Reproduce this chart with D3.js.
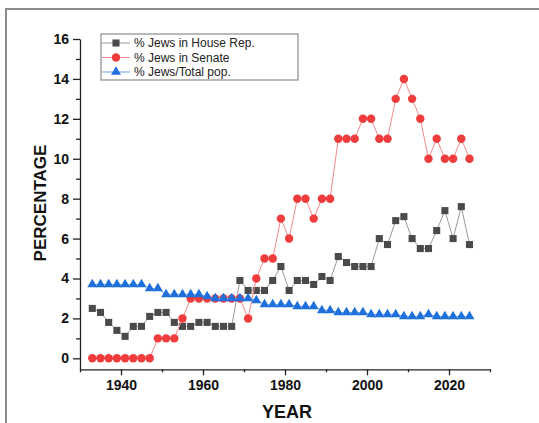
<!DOCTYPE html>
<html>
<head>
<meta charset="utf-8">
<script src="https://cdn.jsdelivr.net/npm/d3@7"></script>
<style>
  body { margin: 0; background: #fff; }
  svg { display: block; font-family: "Liberation Sans", Arial, sans-serif; }
</style>
</head>
<body>
<svg width="539" height="423"></svg>
<script>
let years = [1933, 1935, 1937, 1939, 1941, 1943, 1945, 1947, 1949, 1951,
             1953, 1955, 1957, 1959, 1961, 1963, 1965, 1967, 1969, 1971,
             1973, 1975, 1977, 1979, 1981, 1983, 1985, 1987, 1989, 1991,
             1993, 1995, 1997, 1999, 2001, 2003, 2005, 2007, 2009, 2011,
             2013, 2015, 2017, 2019, 2021, 2023, 2025];

let house = [2.5, 2.3, 1.8, 1.4, 1.1, 1.6, 1.6, 2.1, 2.3, 2.3,
             1.8, 1.6, 1.6, 1.8, 1.8, 1.6, 1.6, 1.6, 3.9, 3.4,
             3.4, 3.4, 3.9, 4.6, 3.4, 3.9, 3.9, 3.7, 4.1, 3.9,
             5.1, 4.8, 4.6, 4.6, 4.6, 6.0, 5.7, 6.9, 7.1, 6.0,
             5.5, 5.5, 6.4, 7.4, 6.0, 7.6, 5.7];

let senate = [0, 0, 0, 0, 0, 0, 0, 0, 1, 1,
              1, 2, 3, 3, 3, 3, 3, 3, 3, 2,
              4, 5, 5, 7, 6, 8, 8, 7, 8, 8,
              11, 11, 11, 12, 12, 11, 11, 13, 14, 13,
              12, 10, 11, 10, 10, 11, 10];

let pop = [3.7, 3.7, 3.7, 3.7, 3.7, 3.7, 3.7, 3.5, 3.5, 3.2,
           3.2, 3.2, 3.2, 3.2, 3.1, 3.0, 3.0, 3.0, 3.0, 3.0,
           2.9, 2.7, 2.7, 2.7, 2.7, 2.6, 2.6, 2.6, 2.4, 2.4,
           2.3, 2.3, 2.3, 2.3, 2.2, 2.2, 2.2, 2.2, 2.1, 2.1,
           2.1, 2.2, 2.1, 2.1, 2.1, 2.1, 2.1];

let yTicks = [0, 2, 4, 6, 8, 10, 12, 14, 16];
let yMinor = [1, 3, 5, 7, 9, 11, 13, 15];
let xTicks = [1940, 1960, 1980, 2000, 2020];
let xMinor = [1930, 1950, 1970, 1990, 2010, 2030];

let series = [
    {name: "% Jews in House Rep.", values: house, symbol: d3.symbolSquare, size: 50, fill: "#4a4a4a", line: "#9a9a9a"},
    {name: "% Jews in Senate", values: senate, symbol: d3.symbolCircle, size: 56, fill: "#f03c3c", line: "#f58a8a"},
    {name: "% Jews/Total pop.", values: pop, symbol: d3.symbolTriangle, size: 42, fill: "#1f6fdc", line: "#6aa4ee"}
];

let svg = d3.select("svg");

// frame around the figure
svg.append("path")
   .attr("d", "M6,423 V9 H539")
   .attr("fill", "none")
   .attr("stroke", "#8c8c8c")
   .attr("stroke-width", 2);

let x = d3.scaleLinear().domain([1930, 2030]).range([80, 490]);
let y = d3.scaleLinear().domain([-0.55, 16]).range([369.3, 39]);

// axes
let xAxis = svg.append("g")
   .attr("transform", "translate(0,369.3)")
   .call(d3.axisBottom(x).tickValues(xTicks).tickFormat(d3.format("d"))
           .tickSize(6).tickSizeOuter(0).tickPadding(5));
svg.append("g")
   .attr("transform", "translate(0,369.3)")
   .call(d3.axisBottom(x).tickValues(xMinor).tickFormat("").tickSize(3).tickSizeOuter(0))
   .select(".domain").remove();

let yAxis = svg.append("g")
   .attr("transform", "translate(80,0)")
   .call(d3.axisLeft(y).tickValues(yTicks).tickSize(7).tickSizeOuter(0).tickPadding(4));
svg.append("g")
   .attr("transform", "translate(80,0)")
   .call(d3.axisLeft(y).tickValues(yMinor).tickFormat("").tickSize(4).tickSizeOuter(0))
   .select(".domain").remove();

svg.selectAll(".domain, .tick line").attr("stroke", "#222").attr("stroke-width", 1.3);
xAxis.selectAll("text").attr("font-size", 14).attr("font-weight", "bold").attr("fill", "#111");
yAxis.selectAll("text").attr("font-size", 14).attr("font-weight", "bold").attr("fill", "#111");

// axis titles
svg.append("text")
   .attr("x", 287).attr("y", 418)
   .attr("text-anchor", "middle")
   .attr("font-size", 18).attr("font-weight", "bold").attr("fill", "#111")
   .text("YEAR");
svg.append("text")
   .attr("transform", "translate(46,203) rotate(-90)")
   .attr("text-anchor", "middle")
   .attr("font-size", 17).attr("font-weight", "bold").attr("fill", "#111")
   .text("PERCENTAGE");

// series
let line = d3.line()
    .x((d, i) => x(years[i]))
    .y(d => y(d));

series.forEach(function (s) {
    svg.append("path")
       .attr("d", line(s.values))
       .attr("fill", "none")
       .attr("stroke", s.line)
       .attr("stroke-width", 1);
    svg.append("g").selectAll("path")
       .data(s.values)
       .enter()
       .append("path")
       .attr("transform", (d, i) => "translate(" + x(years[i]) + "," + y(d) + ")")
       .attr("d", d3.symbol().type(s.symbol).size(s.size))
       .attr("fill", s.fill);
});

// legend
let legend = svg.append("g");
legend.append("rect")
      .attr("x", 101).attr("y", 34)
      .attr("width", 197).attr("height", 46)
      .attr("fill", "#fff")
      .attr("stroke", "#8c8c8c")
      .attr("stroke-width", 1.2);

let item = legend.selectAll("g.item")
      .data(series)
      .enter()
      .append("g")
      .attr("class", "item")
      .attr("transform", (d, i) => "translate(0," + (43 + i * 14.5) + ")");
item.append("line")
    .attr("x1", 102).attr("x2", 130)
    .attr("stroke", d => d.line)
    .attr("stroke-width", 1);
item.append("path")
    .attr("transform", "translate(116,0)")
    .attr("d", d => d3.symbol().type(d.symbol).size(d.size)())
    .attr("fill", d => d.fill);
item.append("text")
    .attr("x", 134).attr("dy", "0.35em")
    .attr("font-size", 12)
    .attr("fill", "#222")
    .text(d => d.name);
</script>
</body>
</html>
